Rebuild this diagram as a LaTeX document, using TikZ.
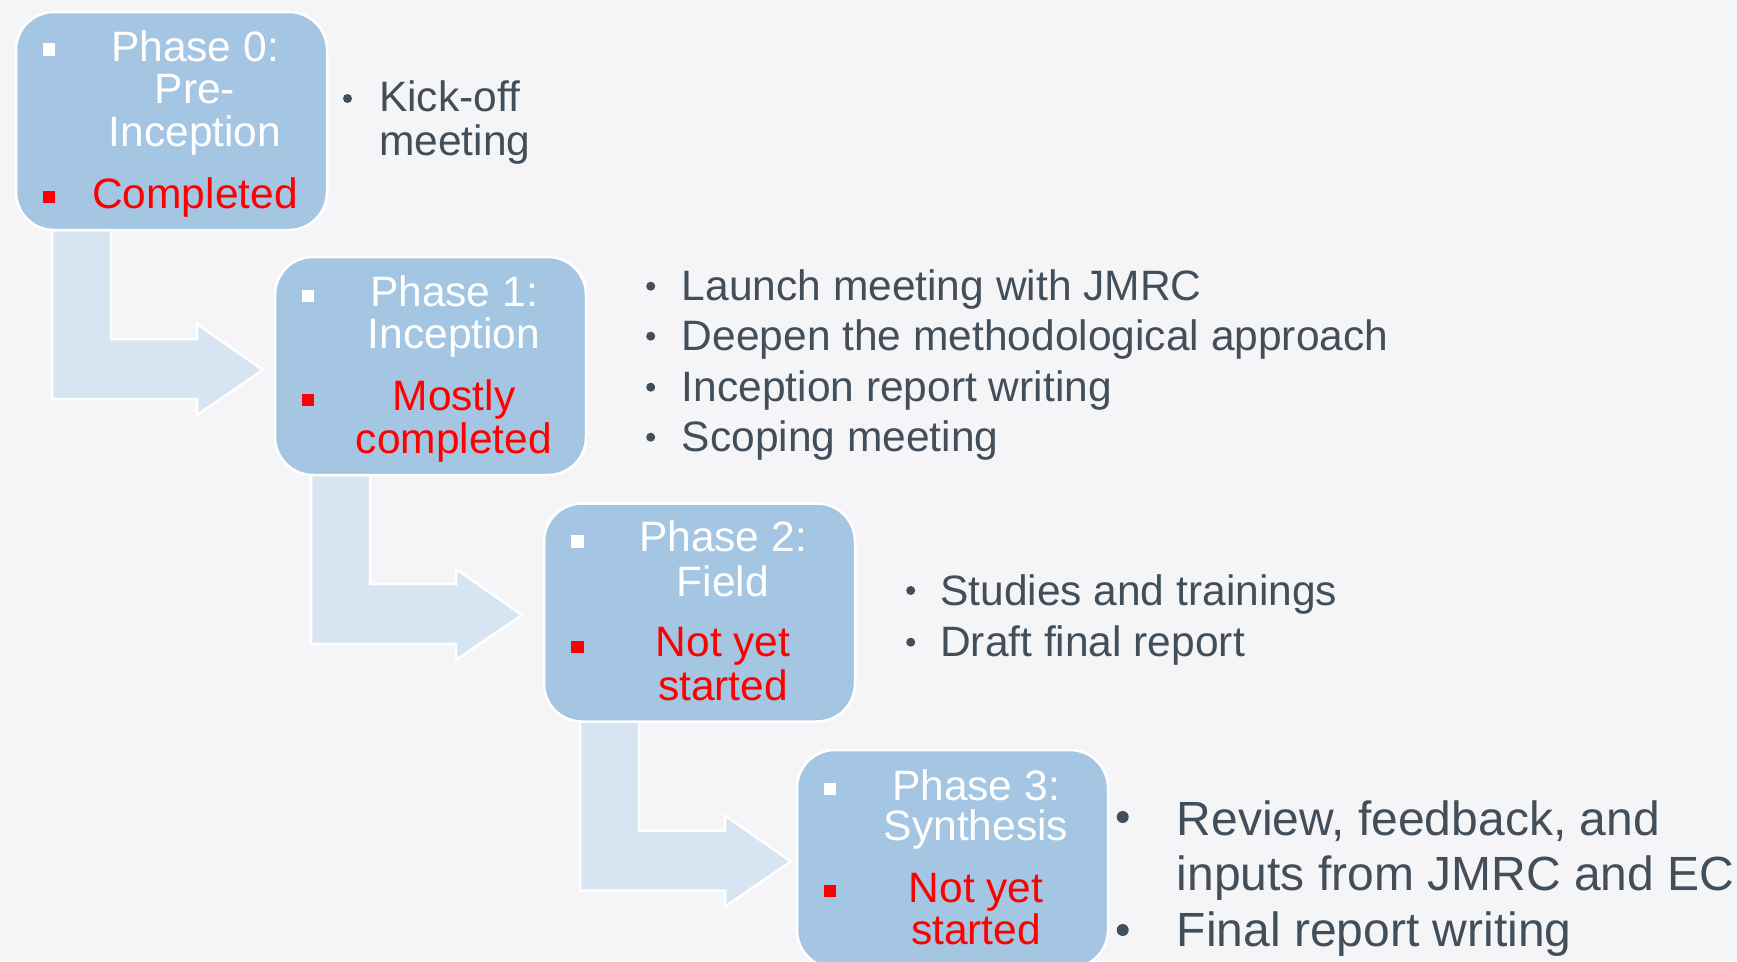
\documentclass[tikz,border=0pt]{standalone}
\usepackage{fontspec}
\setmainfont{Liberation Sans}
\usetikzlibrary{calc}
\definecolor{bgcol}{HTML}{F5F5F7}
\definecolor{boxfill}{HTML}{A4C6E2}
\definecolor{arrowfill}{HTML}{D7E5F2}
\definecolor{stred}{HTML}{FF0000}
\definecolor{txtdark}{HTML}{424E5A}
\tikzset{
  phasebox/.style={rounded corners=38pt, fill=boxfill, draw=white, line width=2.5pt,
    minimum width=311pt, minimum height=218pt, inner sep=0pt, outer sep=0pt},
  bentarrow/.style={fill=arrowfill, draw=white, line width=2.5pt},
  ttl/.style={text=white, font=\fontsize{42.5}{44}\selectfont, anchor=base, inner sep=0pt},
  sts/.style={text=stred, font=\fontsize{42.5}{44}\selectfont, anchor=base, inner sep=0pt},
  sqw/.style={fill=white, minimum size=12.5pt, inner sep=0pt},
  sqr/.style={fill=stred, minimum size=12.5pt, inner sep=0pt},
  lst/.style={text=txtdark, font=\fontsize{42.5}{44}\selectfont, anchor=base west, inner sep=0pt},
  lstbig/.style={text=txtdark, font=\fontsize{48}{50}\selectfont, anchor=base west, inner sep=0pt},
  dotb/.style={circle, fill=txtdark, minimum size=9pt, inner sep=0pt},
  dotbig/.style={circle, fill=txtdark, minimum size=12pt, inner sep=0pt},
}
\begin{document}
\begin{tikzpicture}[x=1pt,y=-1pt]
\useasboundingbox (0,0) rectangle (1737,961);
\clip (0,0) rectangle (1737,961);
\fill[bgcol] (0,0) rectangle (1737,961);

% phase boxes (positioned first so arrows can refer to them)
\path node[phasebox] (p0) at (171.5,121) {}
      node[phasebox] (p1) at (430.5,366) {}
      node[phasebox] (p2) at (699.5,612.5) {}
      node[phasebox] (p3) at (952.5,859) {};

% bent arrows (drawn under the boxes)
\foreach \a/\b in {p0/p1,p1/p2,p2/p3}{
  \fill[bentarrow]
    ($(\a.south west)+(36,0)$) -- ++(0,169) -- ++(145,0) -- ++(0,16)
    -- ++(66,-45) -- ++(-66,-46) -- ++(0,15) -- ++(-86,0) -- ++(0,-109) -- cycle;
}

% redraw boxes on top
\node[phasebox] (q0) at (p0) {};
\node[phasebox] (q1) at (p1) {};
\node[phasebox] (q2) at (p2) {};
\node[phasebox] (q3) at (p3) {};

% box 0
\node[sqw] (p0s1) at (49,49.5) {};
\node[ttl] (p0a) at (195,61) {Phase 0:};
\node[ttl] (p0b) at (195,103.5) {Pre-};
\node[ttl] (p0c) at (195,146.5) {Inception};
\node[sqr] (p0s2) at (49,197) {};
\node[sts] (p0d) at (195,208.3) {Completed};

% box 1
\node[sqw] (p1s1) at (308,296) {};
\node[ttl] (p1a) at (454,306.7) {Phase 1:};
\node[ttl] (p1b) at (454,348.3) {Inception};
\node[sqr] (p1s2) at (308,400) {};
\node[sts] (p1c) at (454,410.7) {Mostly};
\node[sts] (p1d) at (454,453.3) {completed};

% box 2
\node[sqw] (p2s1) at (577.5,541.3) {};
\node[ttl] (p2a) at (723,551.7) {Phase 2:};
\node[ttl] (p2b) at (723,596.7) {Field};
\node[sqr] (p2s2) at (577.5,647) {};
\node[sts] (p2c) at (723,656.7) {Not yet};
\node[sts] (p2d) at (723,700) {started};

% box 3
\node[sqw] (p3s1) at (830,789) {};
\node[ttl] (p3a) at (976,800) {Phase 3:};
\node[ttl] (p3b) at (976,840) {Synthesis};
\node[sqr] (p3s2) at (830,891) {};
\node[sts] (p3c) at (976,902) {Not yet};
\node[sts] (p3d) at (976,944) {started};

% list 0
\node[dotb] (l0d1) at (347.5,98.5) {};
\node[lst] (l0a) at (379,111.7) {Kick-off};
\node[lst] (l0b) at (379,155) {meeting};

% list 1
\node[dotb] (l1d1) at (650.7,286.2) {};
\node[lst] (l1a) at (681.7,300.7) {Launch meeting with JMRC};
\node[dotb] (l1d2) at (650.7,336.2) {};
\node[lst] (l1b) at (681.7,350.7) {Deepen the methodological approach};
\node[dotb] (l1d3) at (650.7,387.2) {};
\node[lst] (l1c) at (681.7,401.7) {Inception report writing};
\node[dotb] (l1d4) at (650.7,437.2) {};
\node[lst] (l1d) at (681.7,451.7) {Scoping meeting};

% list 2
\node[dotb] (l2d1) at (910.7,590.5) {};
\node[lst] (l2a) at (940,605) {Studies and trainings};
\node[dotb] (l2d2) at (910.7,642.2) {};
\node[lst] (l2b) at (940,656.7) {Draft final report};

% list 3
\node[dotbig] (l3d1) at (1122.7,817) {};
\node[lstbig] (l3a) at (1176.7,835) {Review, feedback, and};
\node[lstbig] (l3b) at (1176.7,890.7) {inputs from JMRC and EC};
\node[dotbig] (l3d2) at (1122.7,930) {};
\node[lstbig] (l3c) at (1176.7,946.7) {Final report writing};
\end{tikzpicture}
\end{document}
